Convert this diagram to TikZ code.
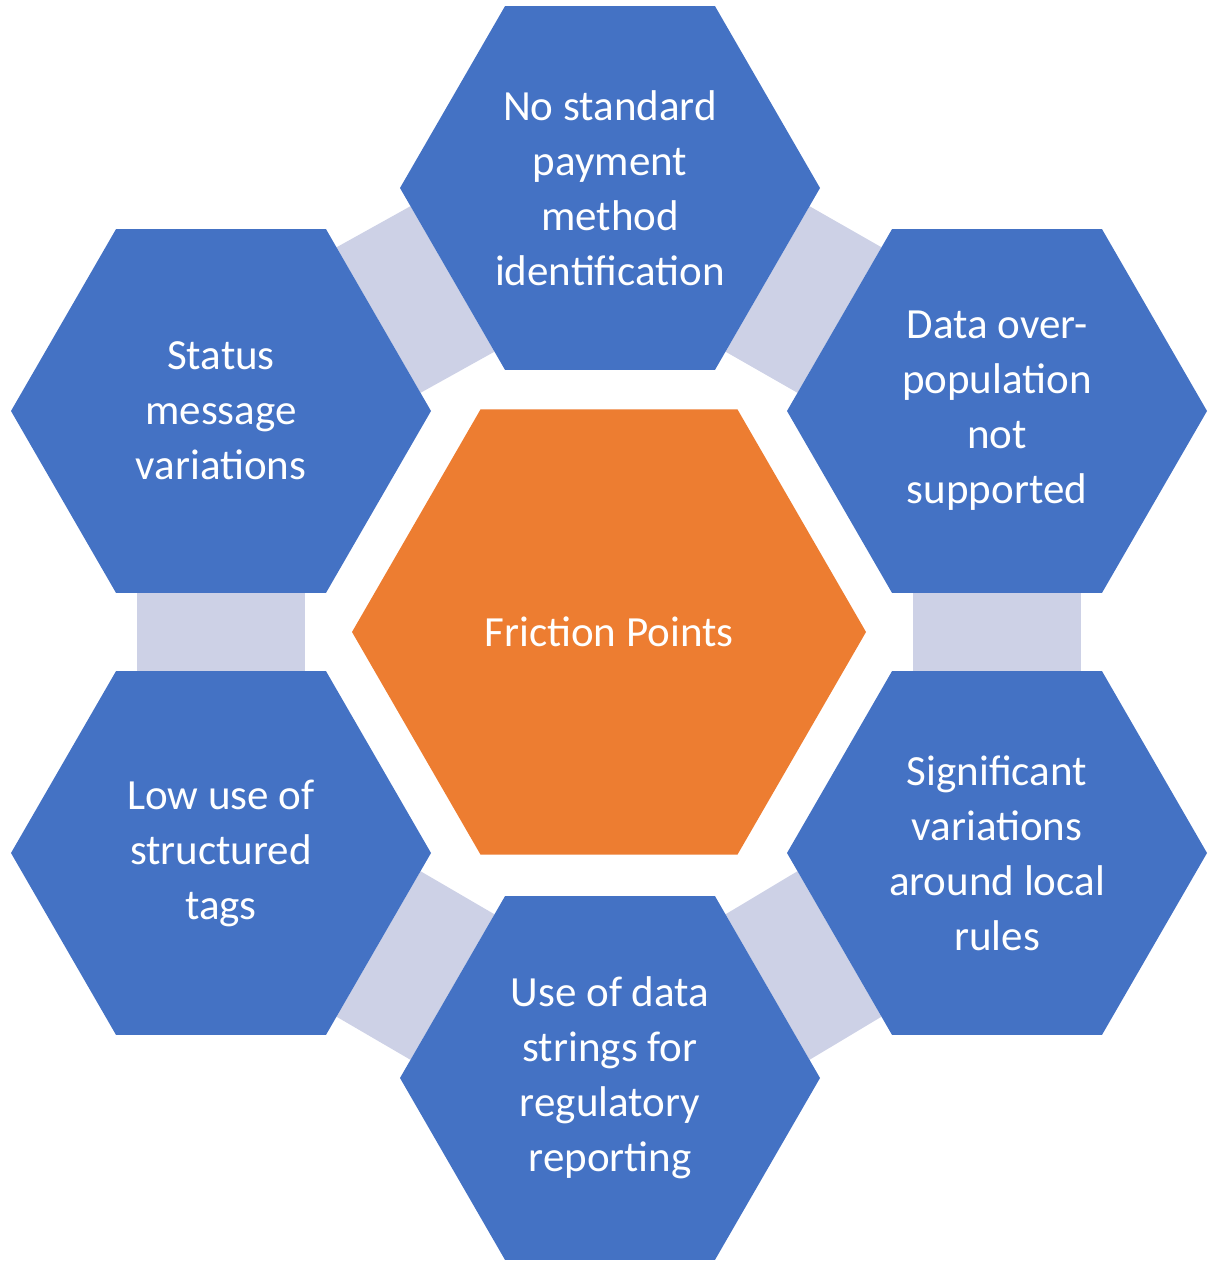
\documentclass[tikz,border=0pt]{standalone}
\usepackage{fontspec}
\setmainfont{Carlito}
\usetikzlibrary{calc}
\definecolor{hexblue}{HTML}{4472C4}
\definecolor{hexorange}{HTML}{ED7D31}
\definecolor{bandc}{HTML}{CDD1E6}
\newcommand\hexdef[4]{%
  \foreach \k in {0,...,5}{\coordinate (#1\k) at ({#2+#4*cos(60*\k)},{#3-#4*sin(60*\k)});}}
\newcommand\hexfill[2]{\fill[#2] (#10)--(#11)--(#12)--(#13)--(#14)--(#15)--cycle;}
\newcommand\bandq[4]{% a-b edge of one, c-d edge of other; b near c
  \fill[bandc] ($(#1)!0.1!(#2)$) -- ($(#2)!0.1!(#1)$) -- ($(#3)!0.1!(#4)$) -- ($(#4)!0.1!(#3)$) -- cycle;}
\begin{document}
\begin{tikzpicture}[x=1pt,y=-1pt,
  lbl/.style={text=white,align=center,font=\fontsize{43}{55}\selectfont}]
\useasboundingbox (0,0) rectangle (1216,1271);
\hexdef{T}{610}{188}{210}
\hexdef{UR}{997}{411}{210}
\hexdef{LR}{997}{853}{210}
\hexdef{B}{610}{1078}{210}
\hexdef{LL}{221}{853}{210}
\hexdef{UL}{221}{411}{210}
\hexdef{C}{609}{632}{257}
\bandq{T5}{T0}{UR2}{UR3}
\bandq{UR4}{UR5}{LR1}{LR2}
\bandq{LR3}{LR4}{B0}{B1}
\bandq{B2}{B3}{LL5}{LL0}
\bandq{LL1}{LL2}{UL4}{UL5}
\bandq{UL0}{UL1}{T3}{T4}
\hexfill{T}{hexblue}
\hexfill{UR}{hexblue}
\hexfill{LR}{hexblue}
\hexfill{B}{hexblue}
\hexfill{LL}{hexblue}
\hexfill{UL}{hexblue}
\hexfill{C}{hexorange}
\node[lbl] (tT) at (610,188) {No standard\\payment\\method\\identification};
\node[lbl] (tUR) at (997,411) {Data over-\\population\\not\\supported};
\node[lbl] (tLR) at (997,853) {Significant\\variations\\around local\\rules};
\node[lbl] (tB) at (610,1078) {Use of data\\strings for\\regulatory\\reporting};
\node[lbl] (tLL) at (221,853) {Low use of\\structured\\tags};
\node[lbl] (tUL) at (221,411) {Status\\message\\variations};
\node[lbl] (tC) at (609,632) {Friction Points};
\end{tikzpicture}
\end{document}
